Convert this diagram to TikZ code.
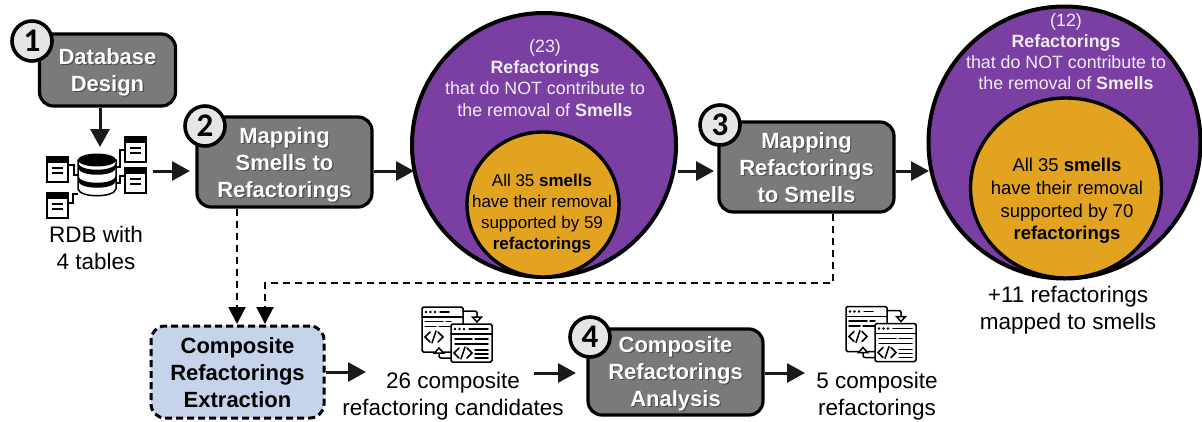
\documentclass[tikz,border=0pt]{standalone}
\usepackage{fontspec}
\setmainfont{Liberation Sans}
\newfontfamily\badgefont{Carlito}
\usetikzlibrary{arrows.meta,shapes.geometric}
\definecolor{boxgray}{HTML}{7A7A7A}
\definecolor{badgegray}{HTML}{E7E6E6}
\definecolor{purp}{HTML}{7B3FA3}
\definecolor{gold}{HTML}{E2A321}
\definecolor{paleblue}{HTML}{C5D4EA}
\definecolor{darkline}{HTML}{1A1A1A}
\definecolor{shade}{HTML}{4A4A4A}
\definecolor{palewhite}{HTML}{F2ECF6}
\newcommand{\shd}[1]{\makebox[0pt][l]{\raisebox{-1.2pt}{\hspace{1.2pt}\textcolor{shade}{#1}}}#1}
\newcommand{\tp}[1]{\rule{0pt}{#1pt}}
\tikzset{
  x=1pt,y=-1pt,
  graybox/.style={draw=black,fill=boxgray,line width=3.2pt,rounded corners=14pt,text=white,font=\fontsize{22}{27}\selectfont\bfseries,align=center,inner sep=0pt},
  dashbox/.style={draw=black,fill=paleblue,line width=3pt,rounded corners=14pt,dash pattern=on 7pt off 4pt,text=black,font=\fontsize{22}{27}\selectfont\bfseries,align=center,inner sep=0pt},
  badge/.style={circle,draw=black,fill=badgegray,line width=3.6pt,minimum size=40pt,inner sep=0pt,font=\fontsize{33}{33}\selectfont\badgefont\bfseries},
  big/.style={ellipse,draw=black,fill=purp,line width=4pt,inner sep=0pt},
  small/.style={ellipse,draw=black,fill=gold,line width=3.4pt,inner sep=0pt},
  outertext/.style={text=palewhite,align=center,inner sep=0pt,font=\fontsize{17.8}{21.2}\selectfont},
  innertext/.style={text=black,align=center,inner sep=0pt,font=\fontsize{17}{21.2}\selectfont},
  label/.style={text=black,align=center,inner sep=0pt,font=\fontsize{22.5}{27}\selectfont},
  flow/.style={draw=darkline,line width=3pt,-{Triangle[length=18pt,width=19pt]}},
  dflow/.style={draw=black,line width=2pt,dash pattern=on 7pt off 5pt,-{Triangle[length=17pt,width=17pt]}},
  icon/.style={draw=black,line width=1.5pt,line cap=round},
  tablepic/.pic={
    \draw[black,line width=1.5pt,fill=white] (0,0) rectangle (21,25);
    \fill[black] (0,0) rectangle (21,5.5);
    \draw[black,line width=1.5pt] (5,11) -- (16,11) (5,16) -- (16,16);
  },
  codepic/.pic={
    \draw[icon,fill=white,rounded corners=1.5pt] (0,0) rectangle (41,45);
    \draw[icon] (0,10) -- (41,10);
    \fill (4,5) circle (1.3) (8.5,5) circle (1.3) (13,5) circle (1.3);
    \draw[icon] (18,5) -- (27,5);
    \draw[icon] (3,14.5) -- (21,14.5) (24,14.5) -- (29,14.5) (3,19.5) -- (14,19.5) (17,19.5) -- (29,19.5);
    \draw[icon] (8,25) -- (3,30) -- (8,35) (14,24) -- (10,36) (16,25) -- (21,30) -- (16,35);
    \draw[icon,fill=white,rounded corners=1.5pt] (29,17) rectangle (70,55);
    \draw[icon] (29,27) -- (70,27);
    \fill (33,22) circle (1.3) (37.5,22) circle (1.3) (42,22) circle (1.3);
    \draw[icon] (47,22) -- (66,22);
    \draw[icon] (33,32) -- (50,32) (53,32) -- (66,32) (33,37) -- (66,37);
    \draw[icon] (37,41) -- (32,46) -- (37,51) (43,40) -- (39,52) (45,41) -- (50,46) -- (45,51);
    \draw[icon] (53,43) -- (66,43) (53,47) -- (66,47) (53,51) -- (66,51);
    \draw[icon,rounded corners=2pt] (41,4) -- (55,4) -- (55,10);
    \draw[icon,fill=white] (50.5,10) -- (59.5,10) -- (55,15) -- cycle;
    \draw[icon,rounded corners=2pt] (29,51) -- (17,51) -- (17,46);
    \draw[icon,fill=white] (12.5,46) -- (21.5,46) -- (17,41) -- cycle;
  },
}
\begin{document}
\begin{tikzpicture}
\useasboundingbox (0,0) rectangle (1202,421);

% circles
\node[big,minimum width=264pt,minimum height=264pt] (c1) at (544,145) {};
\node[small,minimum width=152pt,minimum height=145pt] (c1in) at (543,204.5) {};
\node[big,minimum width=272pt,minimum height=272pt] (c2) at (1064.5,142.5) {};
\node[small,minimum width=191pt,minimum height=180pt] (c2in) at (1066,188) {};

\node[outertext] (t1) at (545,78) {(23)\\\textbf{Refactorings}\\that do NOT contribute to\\the removal of \textbf{Smells}};
\node[innertext] (t2) at (542,213.5) {All 35 \textbf{smells}\\have their removal\\supported by 59\\\textbf{refactorings}};
\node[outertext] (t3) at (1066,51.5) {(12)\\\textbf{Refactorings}\\that do NOT contribute to\\the removal of \textbf{Smells}};
\node[innertext,font=\fontsize{18.5}{22.6}\selectfont] (t4) at (1067,201) {All 35 \textbf{smells}\\have their removal\\supported by 70\\\textbf{refactorings}};

% process boxes
\node[graybox,minimum width=136pt,minimum height=72pt] (box1) at (107.5,70) {\tp{22}\shd{Database}\\\shd{Design}};
\node[graybox,minimum width=175pt,minimum height=90pt] (box2) at (284.5,162) {\tp{22}\shd{Mapping}\\\shd{Smells to}\\\shd{Refactorings}};
\node[graybox,minimum width=175pt,minimum height=90pt] (box3) at (806.5,167) {\tp{18}\shd{Mapping}\\\shd{Refactorings}\\\shd{to Smells}};
\node[dashbox,minimum width=173pt,minimum height=92pt] (box5) at (237.5,372) {\tp{18}Composite\\Refactorings\\Extraction};
\node[graybox,minimum width=175pt,minimum height=86pt] (box4) at (675.5,372) {\tp{20}\shd{Composite}\\\shd{Refactorings}\\\shd{Analysis}};

\node[badge] (b1) at (32,41) {1};
\node[badge] (b2) at (205,126) {2};
\node[badge] (b3) at (720,125) {3};
\node[badge] (b4) at (590,337) {4};

% database icon
\draw[black,line width=1.5pt,fill=white] (78,160) -- (78,189) .. controls (80,198) and (114,198) .. (116,189) -- (116,160) -- cycle;
\fill[black] (78,176) .. controls (80,185) and (114,185) .. (116,176) -- (116,181) .. controls (114,190) and (80,190) .. (78,181) -- cycle;
\fill[black] (78,163) .. controls (80,172) and (114,172) .. (116,163) -- (116,168) .. controls (114,177) and (80,177) .. (78,168) -- cycle;
\fill[black] (97,160) ellipse[x radius=19,y radius=6.5];
\pic at (47,157) {tablepic};
\pic at (47,193) {tablepic};
\pic at (125,137) {tablepic};
\pic at (125,168) {tablepic};
\draw[black,line width=1.5pt] (68,165) -- (74,165) -- (74,175) -- (78,175);
\draw[black,line width=1.5pt] (68,203) -- (73,203) -- (73,194) -- (78,194);
\draw[black,line width=1.5pt] (125,150) -- (120,150) -- (120,167) -- (116,167);
\draw[black,line width=1.5pt] (125,176) -- (120,176) -- (120,183) -- (116,183);

% code icons
\pic at (422,307) {codepic};
\pic at (846,306.5) {codepic};

% labels
\node[label] (l1) at (96,247.5) {RDB with\\4 tables};
\node[label] (l2) at (453,396) {26 composite\\refactoring candidates};
\node[label] (l3) at (877,396) {5 composite\\refactorings};
\node[label] (l4) at (1068,310.5) {+11 refactorings\\mapped to smells};

% flow anchors
\coordinate (dbin) at (100,147);
\coordinate (dbout) at (153,171);
\coordinate (in2) at (190,171);
\coordinate (in1) at (414,171);
\coordinate (out1) at (678,171);
\coordinate (in3) at (714,171);
\coordinate (in4) at (929,171);
\coordinate (cand) at (366,372);
\coordinate (cout) at (534,373);
\coordinate (cin) at (576,373);
\coordinate (fin) at (805,373);
\coordinate (d1) at (237,324);
\coordinate (d2) at (833,283);
\coordinate (d3) at (265,283);
\coordinate (d4) at (265,324);

\draw[flow] (box1.south -| dbin) -- (dbin);
\draw[flow] (dbout) -- (in2);
\draw[flow] (in1 -| box2.east) -- (in1);
\draw[flow] (out1) -- (in3);
\draw[flow] (in4 -| box3.east) -- (in4);
\draw[flow] (cand -| box5.east) -- (cand);
\draw[flow] (cout) -- (cin);
\draw[flow] (fin -| box4.east) -- (fin);
\draw[dflow] (d1 |- box2.south) -- (d1);
\draw[dflow] (d2 |- box3.south) -- (d2) -- (d3) -- (d4);
\end{tikzpicture}
\end{document}
